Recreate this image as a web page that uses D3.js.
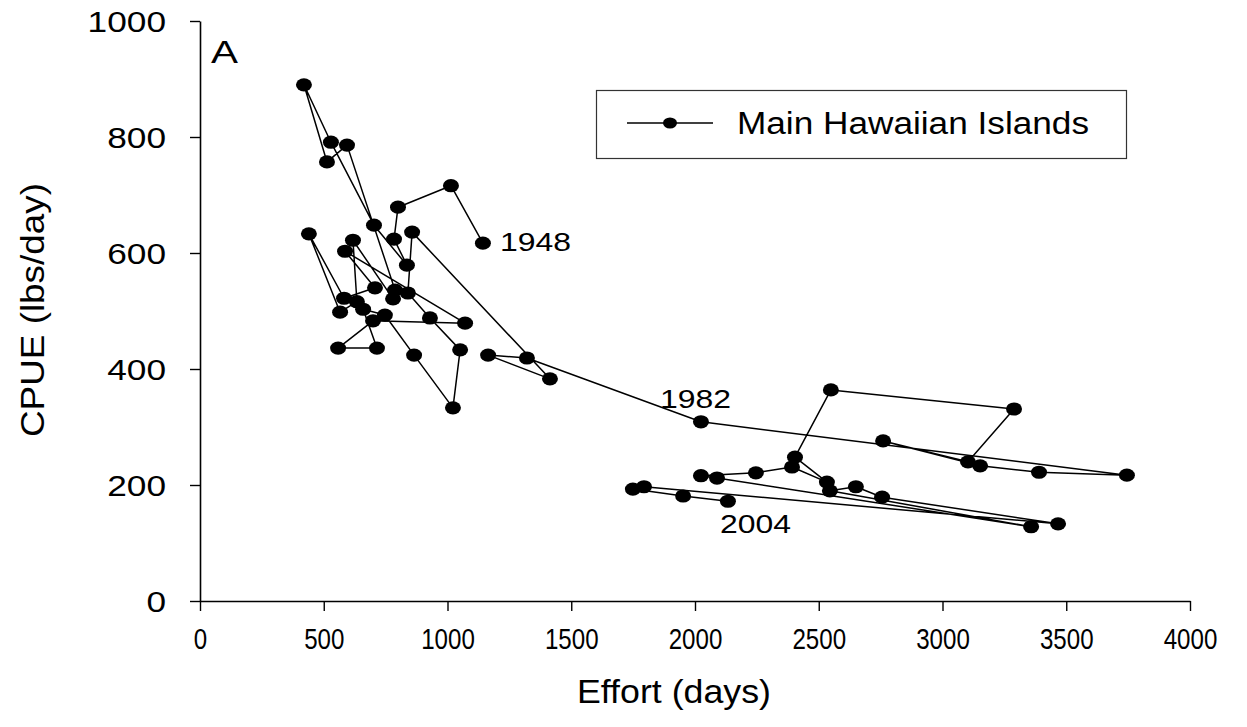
<!DOCTYPE html>
<html>
<head>
<meta charset="utf-8">
<script src="https://cdn.jsdelivr.net/npm/d3@7"></script>
<style>
  html, body { margin: 0; padding: 0; background: #fff; }
  svg { display: block; }
  text { font-family: "Liberation Sans", Arial, sans-serif; fill: #000; }
</style>
</head>
<body>
<svg id="chart" width="1247" height="727"></svg>
<script>
// Main Hawaiian Islands bottomfish fishery, 1948–2004: effort vs catch per unit effort
const years = d3.range(1948, 2005);
const effortDays = [
  1143, 1014, 800, 784, 836, 703, 529, 420, 513, 594,
  788, 780, 618, 634, 566, 440, 582, 707, 586, 1071,
  699, 558, 715, 659, 747, 865, 1022, 1051, 929, 840,
  857, 1414, 1164, 1321,
  2024, 3745, 3390, 3152, 2760, 3103, 3289, 2549, 2404, 2533,
  2392, 2246, 2024, 2089, 3358, 2545, 2650, 2756, 3467, 1794,
  1749, 1952, 2133
];
const cpue = [
  617, 716, 679, 624, 579, 648, 791, 890, 757, 786,
  536, 521, 622, 516, 498, 633, 522, 540, 603, 479,
  483, 436, 436, 503, 493, 424, 333, 433, 488, 531,
  636, 383, 424, 419,
  309, 217, 222, 233, 276, 240, 331, 364, 248, 205,
  231, 221, 216, 212, 128, 190, 197, 179, 133, 197,
  193, 181, 172
];
const xTicks = [0, 500, 1000, 1500, 2000, 2500, 3000, 3500, 4000];
const yTicks = [0, 200, 400, 600, 800, 1000];
const labeledYears = [1948, 1982, 2004];
const seriesName = "Main Hawaiian Islands";

const points = years.map((yr, i) => ({ year: yr, effort: effortDays[i], cpue: cpue[i] }));

const svg = d3.select("#chart");
const x = d3.scaleLinear().domain([0, 4000]).range([200, 1190]);
const y = d3.scaleLinear().domain([0, 1000]).range([601, 21]);

// Axes (left and bottom only)
const xAxis = svg.append("g").attr("transform", "translate(0,601)")
  .call(d3.axisBottom(x).tickValues(xTicks).tickSize(10).tickSizeOuter(0).tickFormat(d3.format("d")));
const yAxis = svg.append("g").attr("transform", "translate(200,0)")
  .call(d3.axisLeft(y).tickValues(yTicks).tickSize(10).tickSizeOuter(0).tickFormat(d3.format("d")));

[xAxis, yAxis].forEach(g => {
  g.select(".domain").attr("stroke", "#000").attr("stroke-width", 1.6);
  g.selectAll(".tick line").attr("stroke", "#000").attr("stroke-width", 1.4);
});

xAxis.selectAll(".tick text")
  .attr("font-size", 29)
  .attr("y", 27)
  .attr("dy", "0.71em")
  .attr("textLength", d => String(d).length * 13.4)
  .attr("lengthAdjust", "spacingAndGlyphs");

yAxis.selectAll(".tick text")
  .attr("font-size", 29)
  .attr("x", -34)
  .attr("dy", "0.36em")
  .attr("textLength", d => String(d).length * 19.6)
  .attr("lengthAdjust", "spacingAndGlyphs");

// Axis titles
svg.append("text")
  .attr("x", 674).attr("y", 703)
  .attr("text-anchor", "middle")
  .attr("font-size", 33)
  .attr("textLength", 194).attr("lengthAdjust", "spacingAndGlyphs")
  .text("Effort (days)");

svg.append("text")
  .attr("transform", "translate(44,310) rotate(-90)")
  .attr("text-anchor", "middle")
  .attr("font-size", 34)
  .attr("textLength", 254).attr("lengthAdjust", "spacingAndGlyphs")
  .text("CPUE (lbs/day)");

// Panel letter
svg.append("text")
  .attr("x", 211).attr("y", 63)
  .attr("font-size", 31)
  .attr("textLength", 27).attr("lengthAdjust", "spacingAndGlyphs")
  .text("A");

// Connected trajectory through the years
const line = d3.line().x(d => x(d.effort)).y(d => y(d.cpue));
svg.append("path")
  .datum(points)
  .attr("d", line)
  .attr("fill", "none")
  .attr("stroke", "#000")
  .attr("stroke-width", 1.5)
  .attr("stroke-linejoin", "round");

svg.append("g").selectAll("ellipse")
  .data(points)
  .join("ellipse")
  .attr("cx", d => x(d.effort))
  .attr("cy", d => y(d.cpue))
  .attr("rx", 8)
  .attr("ry", 6.6)
  .attr("fill", "#000");

// Year annotations
const labelOffsets = { 1948: [17, 8], 1982: [-41, -14], 2004: [-8, 32] };
svg.append("g").selectAll("text")
  .data(points.filter(d => labeledYears.includes(d.year)))
  .join("text")
  .attr("x", d => x(d.effort) + labelOffsets[d.year][0])
  .attr("y", d => y(d.cpue) + labelOffsets[d.year][1])
  .attr("font-size", 26)
  .attr("textLength", 71).attr("lengthAdjust", "spacingAndGlyphs")
  .text(d => d.year);

// Legend
const legend = svg.append("g");
legend.append("rect")
  .attr("x", 596.5).attr("y", 90.5).attr("width", 530).attr("height", 68)
  .attr("fill", "#fff").attr("stroke", "#333").attr("stroke-width", 1.2);
legend.append("line")
  .attr("x1", 627).attr("x2", 713).attr("y1", 123).attr("y2", 123)
  .attr("stroke", "#000").attr("stroke-width", 1.5);
legend.append("ellipse")
  .attr("cx", 670).attr("cy", 123).attr("rx", 7).attr("ry", 5.6).attr("fill", "#000");
legend.append("text")
  .attr("x", 737).attr("y", 134)
  .attr("font-size", 31)
  .attr("textLength", 352).attr("lengthAdjust", "spacingAndGlyphs")
  .text(seriesName);
</script>
</body>
</html>
